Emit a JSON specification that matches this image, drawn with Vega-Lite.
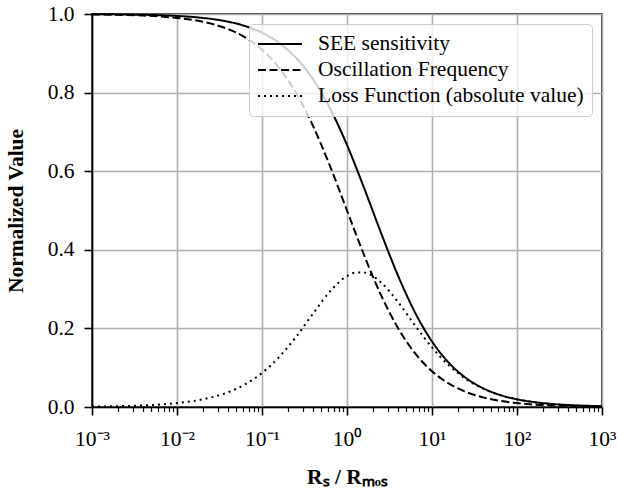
{
  "$schema": "https://vega.github.io/schema/vega-lite/v6.json",
  "width": 510,
  "height": 393,
  "autosize": {"type": "none"},
  "padding": {"left": 92, "top": 14, "right": 16, "bottom": 84},
  "background": "white",
  "data": {
    "values": [
      {"x": 0.001, "y": 0.9995, "s": "SEE sensitivity"},
      {"x": 0.001585, "y": 0.9992, "s": "SEE sensitivity"},
      {"x": 0.002512, "y": 0.9987, "s": "SEE sensitivity"},
      {"x": 0.003981, "y": 0.998, "s": "SEE sensitivity"},
      {"x": 0.00631, "y": 0.9969, "s": "SEE sensitivity"},
      {"x": 0.01, "y": 0.995, "s": "SEE sensitivity"},
      {"x": 0.01585, "y": 0.9921, "s": "SEE sensitivity"},
      {"x": 0.02512, "y": 0.9876, "s": "SEE sensitivity"},
      {"x": 0.03981, "y": 0.9805, "s": "SEE sensitivity"},
      {"x": 0.0631, "y": 0.9694, "s": "SEE sensitivity"},
      {"x": 0.1, "y": 0.9524, "s": "SEE sensitivity"},
      {"x": 0.1585, "y": 0.9266, "s": "SEE sensitivity"},
      {"x": 0.2512, "y": 0.8884, "s": "SEE sensitivity"},
      {"x": 0.3981, "y": 0.834, "s": "SEE sensitivity"},
      {"x": 0.631, "y": 0.7602, "s": "SEE sensitivity"},
      {"x": 1, "y": 0.6667, "s": "SEE sensitivity"},
      {"x": 1.585, "y": 0.5579, "s": "SEE sensitivity"},
      {"x": 2.512, "y": 0.4433, "s": "SEE sensitivity"},
      {"x": 3.981, "y": 0.3344, "s": "SEE sensitivity"},
      {"x": 6.31, "y": 0.2407, "s": "SEE sensitivity"},
      {"x": 10, "y": 0.1667, "s": "SEE sensitivity"},
      {"x": 15.85, "y": 0.1121, "s": "SEE sensitivity"},
      {"x": 25.12, "y": 0.0738, "s": "SEE sensitivity"},
      {"x": 39.81, "y": 0.0478, "s": "SEE sensitivity"},
      {"x": 63.1, "y": 0.0307, "s": "SEE sensitivity"},
      {"x": 100, "y": 0.0196, "s": "SEE sensitivity"},
      {"x": 158.5, "y": 0.0125, "s": "SEE sensitivity"},
      {"x": 251.2, "y": 0.0079, "s": "SEE sensitivity"},
      {"x": 398.1, "y": 0.005, "s": "SEE sensitivity"},
      {"x": 631, "y": 0.0032, "s": "SEE sensitivity"},
      {"x": 1000, "y": 0.002, "s": "SEE sensitivity"},
      {"x": 0.001, "y": 0.999, "s": "Oscillation Frequency"},
      {"x": 0.001585, "y": 0.9984, "s": "Oscillation Frequency"},
      {"x": 0.002512, "y": 0.9975, "s": "Oscillation Frequency"},
      {"x": 0.003981, "y": 0.996, "s": "Oscillation Frequency"},
      {"x": 0.00631, "y": 0.9937, "s": "Oscillation Frequency"},
      {"x": 0.01, "y": 0.9901, "s": "Oscillation Frequency"},
      {"x": 0.01585, "y": 0.9844, "s": "Oscillation Frequency"},
      {"x": 0.02512, "y": 0.9755, "s": "Oscillation Frequency"},
      {"x": 0.03981, "y": 0.9617, "s": "Oscillation Frequency"},
      {"x": 0.0631, "y": 0.9407, "s": "Oscillation Frequency"},
      {"x": 0.1, "y": 0.9091, "s": "Oscillation Frequency"},
      {"x": 0.1585, "y": 0.8632, "s": "Oscillation Frequency"},
      {"x": 0.2512, "y": 0.7992, "s": "Oscillation Frequency"},
      {"x": 0.3981, "y": 0.7153, "s": "Oscillation Frequency"},
      {"x": 0.631, "y": 0.6131, "s": "Oscillation Frequency"},
      {"x": 1, "y": 0.5, "s": "Oscillation Frequency"},
      {"x": 1.585, "y": 0.3869, "s": "Oscillation Frequency"},
      {"x": 2.512, "y": 0.2848, "s": "Oscillation Frequency"},
      {"x": 3.981, "y": 0.2008, "s": "Oscillation Frequency"},
      {"x": 6.31, "y": 0.1368, "s": "Oscillation Frequency"},
      {"x": 10, "y": 0.0909, "s": "Oscillation Frequency"},
      {"x": 15.85, "y": 0.0594, "s": "Oscillation Frequency"},
      {"x": 25.12, "y": 0.0383, "s": "Oscillation Frequency"},
      {"x": 39.81, "y": 0.0245, "s": "Oscillation Frequency"},
      {"x": 63.1, "y": 0.0156, "s": "Oscillation Frequency"},
      {"x": 100, "y": 0.0099, "s": "Oscillation Frequency"},
      {"x": 158.5, "y": 0.0063, "s": "Oscillation Frequency"},
      {"x": 251.2, "y": 0.004, "s": "Oscillation Frequency"},
      {"x": 398.1, "y": 0.0025, "s": "Oscillation Frequency"},
      {"x": 631, "y": 0.0016, "s": "Oscillation Frequency"},
      {"x": 1000, "y": 0.001, "s": "Oscillation Frequency"},
      {"x": 0.001, "y": 0.001, "s": "Loss Function (absolute value)"},
      {"x": 0.001585, "y": 0.0016, "s": "Loss Function (absolute value)"},
      {"x": 0.002512, "y": 0.0025, "s": "Loss Function (absolute value)"},
      {"x": 0.003981, "y": 0.004, "s": "Loss Function (absolute value)"},
      {"x": 0.00631, "y": 0.0063, "s": "Loss Function (absolute value)"},
      {"x": 0.01, "y": 0.0099, "s": "Loss Function (absolute value)"},
      {"x": 0.01585, "y": 0.0155, "s": "Loss Function (absolute value)"},
      {"x": 0.02512, "y": 0.0242, "s": "Loss Function (absolute value)"},
      {"x": 0.03981, "y": 0.0375, "s": "Loss Function (absolute value)"},
      {"x": 0.0631, "y": 0.0575, "s": "Loss Function (absolute value)"},
      {"x": 0.1, "y": 0.0866, "s": "Loss Function (absolute value)"},
      {"x": 0.1585, "y": 0.1268, "s": "Loss Function (absolute value)"},
      {"x": 0.2512, "y": 0.1784, "s": "Loss Function (absolute value)"},
      {"x": 0.3981, "y": 0.2375, "s": "Loss Function (absolute value)"},
      {"x": 0.631, "y": 0.2941, "s": "Loss Function (absolute value)"},
      {"x": 1, "y": 0.3333, "s": "Loss Function (absolute value)"},
      {"x": 1.259, "y": 0.342, "s": "Loss Function (absolute value)"},
      {"x": 1.585, "y": 0.3421, "s": "Loss Function (absolute value)"},
      {"x": 1.995, "y": 0.3335, "s": "Loss Function (absolute value)"},
      {"x": 2.512, "y": 0.3171, "s": "Loss Function (absolute value)"},
      {"x": 3.981, "y": 0.2673, "s": "Loss Function (absolute value)"},
      {"x": 6.31, "y": 0.2078, "s": "Loss Function (absolute value)"},
      {"x": 10, "y": 0.1515, "s": "Loss Function (absolute value)"},
      {"x": 15.85, "y": 0.1054, "s": "Loss Function (absolute value)"},
      {"x": 25.12, "y": 0.0709, "s": "Loss Function (absolute value)"},
      {"x": 39.81, "y": 0.0467, "s": "Loss Function (absolute value)"},
      {"x": 63.1, "y": 0.0302, "s": "Loss Function (absolute value)"},
      {"x": 100, "y": 0.0194, "s": "Loss Function (absolute value)"},
      {"x": 158.5, "y": 0.0124, "s": "Loss Function (absolute value)"},
      {"x": 251.2, "y": 0.0079, "s": "Loss Function (absolute value)"},
      {"x": 398.1, "y": 0.005, "s": "Loss Function (absolute value)"},
      {"x": 631, "y": 0.0032, "s": "Loss Function (absolute value)"},
      {"x": 1000, "y": 0.002, "s": "Loss Function (absolute value)"}
    ]
  },
  "mark": {"type": "line", "interpolate": "monotone", "strokeWidth": 2, "color": "black", "strokeCap": "butt"},
  "encoding": {
    "x": {
      "field": "x",
      "type": "quantitative",
      "scale": {"type": "log", "domain": [0.001, 1000], "nice": false},
      "axis": {
        "title": "Rₛ / Rₘₒₛ",
        "titlePadding": 17,
        "values": [0.001, 0.002, 0.003, 0.004, 0.005, 0.006, 0.007, 0.008, 0.009,
                   0.01, 0.02, 0.03, 0.04, 0.05, 0.06, 0.07, 0.08, 0.09,
                   0.1, 0.2, 0.3, 0.4, 0.5, 0.6, 0.7, 0.8, 0.9,
                   1, 2, 3, 4, 5, 6, 7, 8, 9,
                   10, 20, 30, 40, 50, 60, 70, 80, 90,
                   100, 200, 300, 400, 500, 600, 700, 800, 900, 1000],
        "labelExpr": "abs(log(datum.value)/LN10 - round(log(datum.value)/LN10)) < 0.001 ? ['10⁻³','10⁻²','10⁻¹','10⁰','10¹','10²','10³'][round(log(datum.value)/LN10)+3] : ''",
        "labelOverlap": false,
        "labelFlush": false,
        "labelPadding": 13,
        "tickSize": {"condition": {"test": "abs(log(datum.value)/LN10 - round(log(datum.value)/LN10)) < 0.001", "value": 8}, "value": 4.5},
        "tickWidth": {"condition": {"test": "abs(log(datum.value)/LN10 - round(log(datum.value)/LN10)) < 0.001", "value": 1.6}, "value": 1.2},
        "gridOpacity": {"condition": {"test": "abs(log(datum.value)/LN10 - round(log(datum.value)/LN10)) < 0.001", "value": 1}, "value": 0}
      }
    },
    "y": {
      "field": "y",
      "type": "quantitative",
      "scale": {"domain": [0, 1], "nice": false},
      "axis": {
        "title": "Normalized Value",
        "titlePadding": 20,
        "values": [0, 0.2, 0.4, 0.6, 0.8, 1],
        "format": ".1f",
        "tickSize": 8,
        "tickWidth": 1.6,
        "labelPadding": 10
      }
    },
    "strokeDash": {
      "field": "s",
      "type": "nominal",
      "scale": {
        "domain": ["SEE sensitivity", "Oscillation Frequency", "Loss Function (absolute value)"],
        "range": [[1, 0], [8, 3.5], [2, 4]]
      },
      "legend": {
        "orient": "top-right",
        "offset": 10,
        "title": null,
        "labelFont": "Liberation Serif",
        "labelFontSize": 21.5,
        "labelColor": "black",
        "labelLimit": 400,
        "symbolType": "stroke",
        "symbolSize": 1936,
        "symbolStrokeWidth": 2,
        "symbolStrokeColor": "black",
        "clipHeight": 24,
        "rowPadding": 2,
        "labelOffset": 15,
        "padding": 8,
        "fillColor": "rgba(255,255,255,0.8)",
        "strokeColor": "#cccccc",
        "cornerRadius": 4
      }
    }
  },
  "config": {
    "font": "Liberation Serif",
    "view": {"stroke": "black", "strokeWidth": 1.6},
    "axis": {
      "domainColor": "black",
      "domainWidth": 1.6,
      "tickColor": "black",
      "gridColor": "#b0b0b0",
      "gridWidth": 1.6,
      "labelFont": "Liberation Serif",
      "labelFontSize": 21.5,
      "labelColor": "black",
      "titleFont": "Liberation Serif",
      "titleFontSize": 21.5,
      "titleFontWeight": "bold",
      "titleColor": "black"
    }
  }
}
